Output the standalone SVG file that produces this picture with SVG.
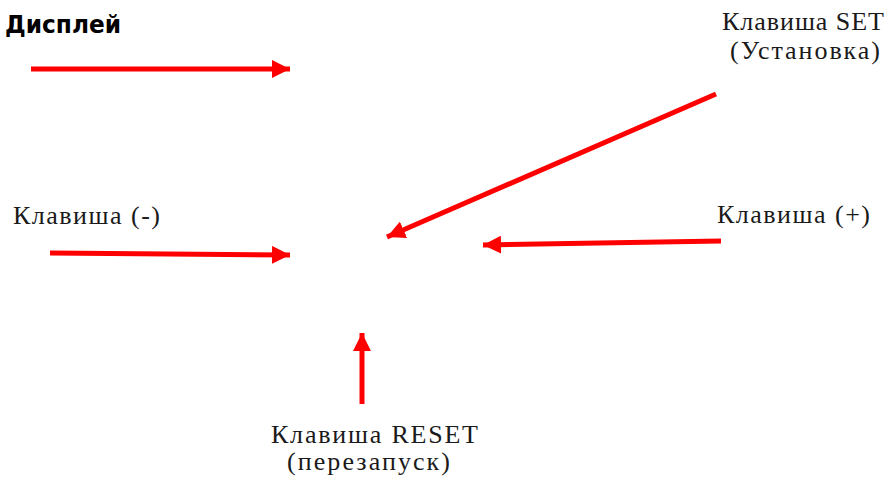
<svg xmlns="http://www.w3.org/2000/svg" width="893" height="479" viewBox="0 0 893 479">
<style>
text.lbl{font-family:'Liberation Serif','Times New Roman',serif;font-size:26px;fill:#1a1a1a}
text.title{font-family:'DejaVu Sans',Verdana,sans-serif;font-size:25px;font-weight:bold;fill:#000}
.arr{stroke:#ff0000;stroke-width:5;fill:none;marker-end:url(#ah)}
</style>
<defs>
<marker id="ah" markerUnits="userSpaceOnUse" markerWidth="19" markerHeight="18" refX="18" refY="9" orient="auto">
<path d="M0,0 L18,9 L0,18 Z" fill="#ff0000"/>
</marker>
</defs>
<rect width="893" height="479" fill="#fff"/>
<g id="display"><text class="title" x="5" y="33" textLength="116" lengthAdjust="spacingAndGlyphs">Дисплей</text></g>
<g id="key-set">
<text class="lbl" x="722" y="30" textLength="162" lengthAdjust="spacing">Клавиша SET</text>
<text class="lbl" x="730" y="59" textLength="150" lengthAdjust="spacing">(Установка)</text>
</g>
<g id="key-minus"><text class="lbl" x="13" y="224" textLength="147" lengthAdjust="spacing">Клавиша (-)</text></g>
<g id="key-plus"><text class="lbl" x="717" y="223" textLength="153" lengthAdjust="spacing">Клавиша (+)</text></g>
<g id="key-reset">
<text class="lbl" x="271" y="443" textLength="207" lengthAdjust="spacing">Клавиша RESET</text>
<text class="lbl" x="287" y="470" textLength="163" lengthAdjust="spacing">(перезапуск)</text>
</g>
<g id="connectors">
<line class="arr" x1="31" y1="69" x2="290" y2="69"/>
<line class="arr" x1="716" y1="94" x2="387" y2="237"/>
<line class="arr" x1="50" y1="253" x2="290" y2="255"/>
<line class="arr" x1="721" y1="241" x2="483" y2="245"/>
<line class="arr" x1="362" y1="404" x2="362" y2="333"/>
</g>
</svg>
